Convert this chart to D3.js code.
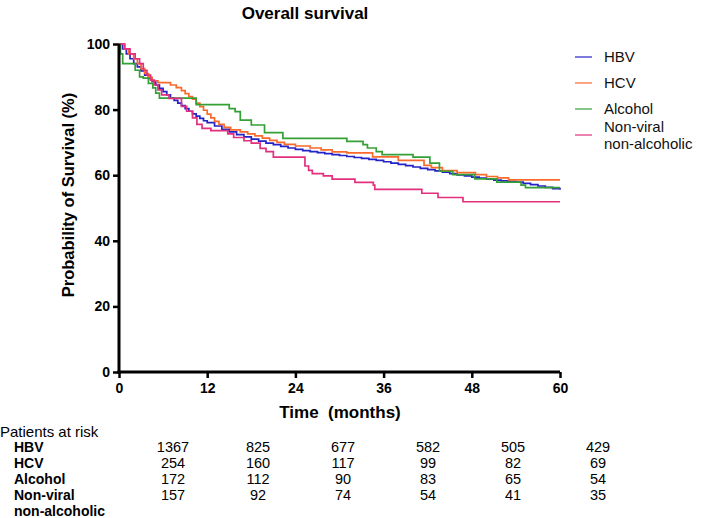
<!DOCTYPE html>
<html><head><meta charset="utf-8">
<script src="https://cdn.jsdelivr.net/npm/d3@7"></script>
<style>body{margin:0;background:#fff}svg{display:block}</style>
</head><body>
<svg id="c" width="714" height="518"></svg>
<script>
const seriesNames = ["HBV", "HCV", "Alcohol", "Non-viral non-alcoholic"];
const legendLabels = [["HBV"], ["HCV"], ["Alcohol"], ["Non-viral", "non-alcoholic"]];
const colors = ["#2323c8", "#fa6a2c", "#35a035", "#e2307e"];
const xTicks = [0, 12, 24, 36, 48, 60];
const yTicks = [0, 20, 40, 60, 80, 100];

const hbv = [[0,100],[0.5,98.5],[1,97],[1.5,95.5],[2,94],[2.5,93],[3,91.8],[3.5,90.5],[4,89.5],[4.5,88.5],[5,87.5],[5.5,86.5],[6,85.5],[6.5,84.5],[7,83.6],[7.5,82.8],[8,82],[8.5,81.2],[9,80.3],[9.5,79.5],[10,78.7],[10.5,78],[11,77.3],[11.5,76.6],[12,76],[13,75],[14,74],[15,73.2],[16,72.4],[17,71.7],[18,71],[19,70.4],[20,69.8],[21,69.3],[22,68.8],[23,68.3],[24,67.9],[25,67.5],[26,67.2],[27,66.9],[28,66.6],[29,66.3],[30,66],[31,65.7],[32,65.4],[33,65.1],[34,64.8],[35,64.5],[36,64.1],[37,63.7],[38,63.3],[39,62.9],[40,62.5],[41,62.1],[42,61.7],[43,61.3],[44,60.9],[45,60.5],[46,60.1],[47,59.8],[48,59.4],[49,59.1],[50,58.8],[51,58.5],[52,58.3],[53,58.1],[54,57.9],[55,57.5],[56,57.1],[57,56.7],[58,56.3],[59,55.9],[60,55.6]];
const hcv = [[0,100],[0.7,98.5],[1.3,97],[2,95.5],[2.5,94],[3,92.5],[3.5,91],[4,89.8],[4.5,88.8],[5.3,88.2],[7,87.5],[7.8,86.7],[8.5,85.8],[9,84.9],[9.5,84],[10,83.2],[10.5,82],[11,80.9],[11.5,79.8],[12,78.6],[12.5,77.5],[13,76.4],[13.6,75.5],[14.3,74.6],[15.2,73.8],[16.5,73.2],[17.5,72.6],[18.5,72],[19.5,71.3],[20.5,70.6],[21.5,70],[22.5,69.4],[24,68.9],[26,68.3],[27.5,67.7],[29,67.1],[31,66.8],[34.5,65.6],[38,64.5],[41.5,63],[42.5,62.3],[44,61.4],[46,60.8],[48.5,60.2],[50,59.6],[51.5,59.2],[53,58.6],[60,58.6]];
const alcohol = [[0,100],[0.2,97],[0.5,94],[2.2,92],[2.8,90],[3.3,89.6],[4,88],[4.6,86.6],[5,85],[5.5,83.5],[10.5,81.5],[15,80.3],[15.8,79.4],[16.5,76.8],[18,75.3],[19.8,73],[22.3,71.2],[31,70.3],[33.2,69.3],[33.8,68.3],[35,67.2],[35.8,66.3],[40,65.5],[42.3,63.7],[43.6,61.2],[45.4,60.2],[48.4,58.9],[51.4,57.9],[54.7,57],[55.3,56.2],[60,56.2]];
const nonviral = [[0,100],[0.8,98.5],[1.5,97],[2.2,95.5],[2.8,94],[3.3,92],[3.8,90.5],[4.3,89],[4.8,87.5],[5.3,86],[5.8,84.5],[6.8,83.4],[8.5,81],[9.2,79.5],[10,77.5],[10.6,75.5],[11.3,74.3],[12.5,73.6],[14.8,72.6],[15.6,71.5],[17,70.5],[18,69.8],[19.2,68.2],[20,67.2],[21,65.5],[25.3,62.8],[25.8,61.5],[26.3,60.5],[27.8,59.8],[29,58.8],[32.1,57.8],[34.6,57],[34.8,55.7],[41.2,54.5],[43.4,53.2],[46.8,51.9],[60,51.9]];
const curves = [hbv, hcv, alcohol, nonviral];

const riskRowLabels = [["HBV"], ["HCV"], ["Alcohol"], ["Non-viral", "non-alcoholic"]];
const riskHBV = [1367, 825, 677, 582, 505, 429];
const riskHCV = [254, 160, 117, 99, 82, 69];
const riskAlcohol = [172, 112, 90, 83, 65, 54];
const riskNonviral = [157, 92, 74, 54, 41, 35];
const riskRows = [riskHBV, riskHCV, riskAlcohol, riskNonviral];

const svg = d3.select("#c");
const ML = 119, MR = 560, MT = 44, MB = 372;
const x = d3.scaleLinear().domain([0, 60]).range([ML, MR]);
const y = d3.scaleLinear().domain([0, 100]).range([MB, MT]);
const fontB = "'Liberation Sans', Arial, sans-serif";

svg.append("text").attr("x", 305).attr("y", 19).attr("text-anchor", "middle")
  .attr("font-family", fontB).attr("font-weight", "bold").attr("font-size", 17).text("Overall survival");

// curves
const line = d3.line().x(d => x(d[0])).y(d => y(d[1])).curve(d3.curveStepAfter);
curves.forEach((c, i) => {
  svg.append("path").datum(c).attr("d", line).attr("fill", "none")
    .attr("stroke", colors[i]).attr("stroke-width", 1.7);
});

// axes
const yAxis = d3.axisLeft(y).tickValues(yTicks).tickSize(6).tickPadding(3);
const gy = svg.append("g").attr("transform", `translate(${ML},0)`).call(yAxis);
const xAxis = d3.axisBottom(x).tickValues(xTicks).tickSize(6).tickPadding(5);
const gx = svg.append("g").attr("transform", `translate(0,${MB})`).call(xAxis);
[gx, gy].forEach(g => {
  g.select(".domain").attr("stroke", "#000").attr("stroke-width", 3);
  g.selectAll(".tick line").attr("stroke", "#000").attr("stroke-width", 2.5);
  g.selectAll(".tick text").attr("font-family", fontB).attr("font-weight", "bold")
    .attr("font-size", 14).attr("fill", "#000");
});
gy.select(".domain").attr("d", `M0,${MB + 1.5}V${MT}`);
gx.select(".domain").attr("d", `M${ML - 1.5},0H${MR}`);

svg.append("text").attr("transform", `translate(74,195) rotate(-90)`)
  .attr("text-anchor", "middle").attr("font-family", fontB).attr("font-weight", "bold")
  .attr("font-size", 16.5).text("Probability of Survival (%)");

svg.append("text").attr("x", 340).attr("y", 418).attr("text-anchor", "middle")
  .attr("font-family", fontB).attr("font-weight", "bold").attr("font-size", 17)
  .style("white-space", "pre").text("Time  (months)");

// legend
const legY = [57, 83, 109, 135];
legendLabels.forEach((lab, i) => {
  svg.append("line").attr("x1", 575).attr("x2", 592).attr("y1", legY[i]).attr("y2", legY[i])
    .attr("stroke", colors[i]).attr("stroke-width", 1.2);
  const t = svg.append("text").attr("font-family", fontB).attr("font-size", 15).attr("fill", "#111");
  if (lab.length === 1) {
    t.attr("x", 604).attr("y", legY[i] + 5).text(lab[0]);
  } else {
    t.append("tspan").attr("x", 604).attr("y", legY[i] - 3).text(lab[0]);
    t.append("tspan").attr("x", 604).attr("y", legY[i] + 14).text(lab[1]);
  }
});

// risk table
const xr = d3.scaleLinear().domain([0, 60]).range([173, 598]);
svg.append("text").attr("x", 0).attr("y", 437).attr("font-family", fontB).attr("font-size", 15)
  .text("Patients at risk");
const rowY = [452, 468, 484, 500];
riskRows.forEach((row, i) => {
  riskRowLabels[i].forEach((lab, k) => {
    svg.append("text").attr("x", 14).attr("y", rowY[i] + k * 15.5)
      .attr("font-family", fontB).attr("font-weight", "bold").attr("font-size", 14).text(lab);
  });
  row.forEach((v, j) => {
    svg.append("text").attr("x", xr(xTicks[j])).attr("y", rowY[i]).attr("text-anchor", "middle")
      .attr("font-family", fontB).attr("font-size", 14.5).text(v);
  });
});
</script>
</body></html>
